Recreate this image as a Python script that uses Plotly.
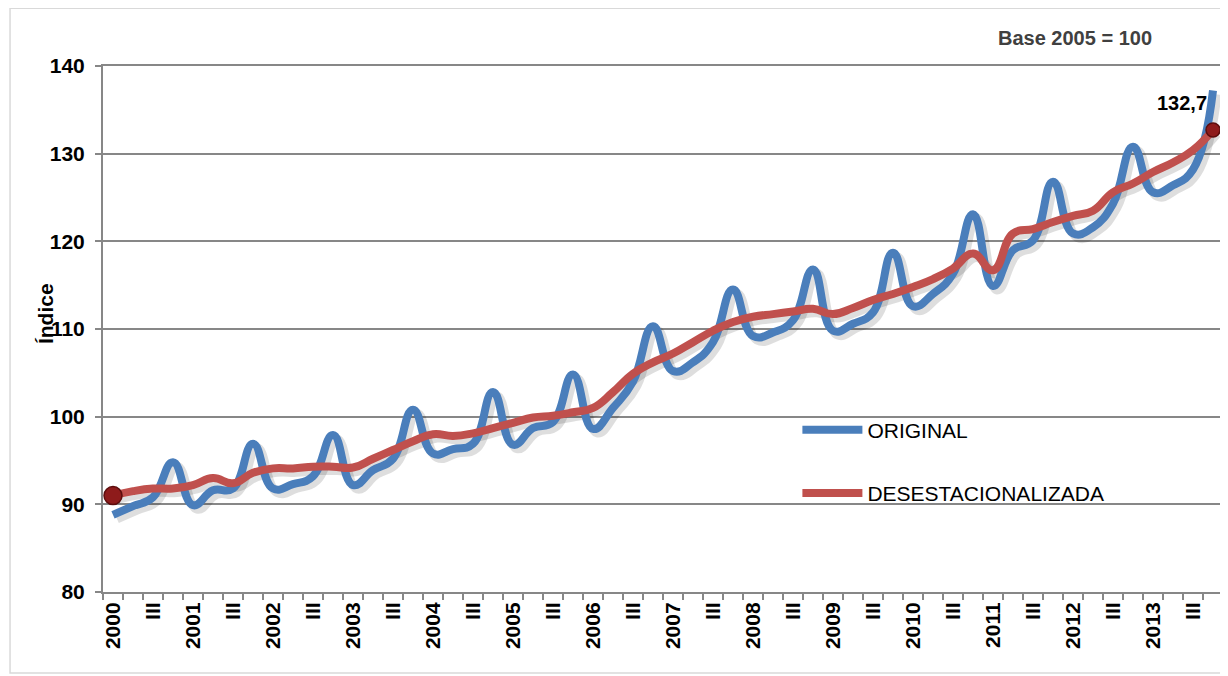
import plotly.graph_objects as go

years = list(range(2000, 2014))
quarters = ["I", "II", "III", "IV"]

original = [
    88.8, 89.8, 90.8, 94.8,
    89.9, 91.6, 91.8, 96.9,
    91.8, 92.3, 93.2, 97.9,
    92.2, 93.9, 95.2, 100.8,
    95.8, 96.3, 96.9, 102.8,
    96.8, 98.7, 99.4, 104.8,
    98.6, 101.0, 104.0, 110.3,
    105.2, 106.2, 108.5, 114.5,
    109.2, 109.6, 111.0, 116.8,
    109.8, 110.6, 111.9, 118.7,
    112.6, 114.0, 116.3, 123.1,
    114.9, 119.0, 120.1, 126.8,
    120.9, 121.6, 124.3, 130.8,
    125.6, 126.4, 128.2, 137.2,
]

desestacionalizada = [
    91.0, 91.5, 91.8, 91.8,
    92.2, 93.0, 92.4, 93.6,
    94.1, 94.1, 94.3, 94.3,
    94.2, 95.2, 96.2, 97.2,
    98.0, 97.8, 98.1, 98.7,
    99.3, 99.9, 100.1, 100.5,
    101.0, 102.8, 104.9, 106.2,
    107.2, 108.5, 109.8, 110.8,
    111.4, 111.7, 112.0, 112.3,
    111.7, 112.4, 113.3, 114.0,
    114.8, 115.7, 116.9, 118.6,
    116.7, 120.9, 121.4, 122.2,
    122.9, 123.5, 125.6, 126.6,
    127.9, 129.0, 130.4, 132.7,
]

# category labels: year on quarter I, "III" on quarter III
labels = []
for y in years:
    for q in quarters:
        labels.append(str(y) if q == "I" else q)

n = len(original)
x = list(range(n))
tick_idx = [i for i in x if quarters[i % 4] in ("I", "III")]
tick_text = [labels[i] for i in tick_idx]

FONT = "Liberation Sans, Arial, sans-serif"
BLUE = "#4A7EBB"
RED = "#C0504D"
GRID = "#878787"
SHADOW = "rgba(0,0,0,0.13)"
SMOOTH = 1.3

fig = go.Figure()

# soft drop shadows (same data, offset slightly)
for series in (original, desestacionalizada):
    fig.add_trace(go.Scatter(
        x=[v + 0.2 for v in x], y=[v - 0.45 for v in series], mode="lines",
        showlegend=False, hoverinfo="skip",
        line=dict(color=SHADOW, width=9, shape="spline", smoothing=SMOOTH),
    ))

fig.add_trace(go.Scatter(
    x=x, y=original, mode="lines", name="ORIGINAL",
    line=dict(color=BLUE, width=8, shape="spline", smoothing=SMOOTH),
    legendgroup="a",
))
fig.add_trace(go.Scatter(
    x=x, y=desestacionalizada, mode="lines", name="DESESTACIONALIZADA",
    line=dict(color=RED, width=8, shape="spline", smoothing=SMOOTH),
    legendgroup="b",
))
# end markers
fig.add_trace(go.Scatter(
    x=[x[0], x[-1]], y=[desestacionalizada[0], desestacionalizada[-1]],
    mode="markers", showlegend=False, hoverinfo="skip",
    marker=dict(size=[18, 14], color="#8E1B1B", opacity=1,
                line=dict(width=1.5, color="#5C0D0D")),
))

fig.add_annotation(
    x=x[-1], y=desestacionalizada[-1], xref="x", yref="y",
    text="132,7", showarrow=False, xanchor="right", yanchor="bottom",
    xshift=-4, yshift=14,
    font=dict(family=FONT, size=20, color="#000000", weight="bold"),
)
fig.add_annotation(
    x=0.868, y=1.054, xref="paper", yref="paper",
    text="Base 2005 = 100", showarrow=False, xanchor="center", yanchor="middle",
    font=dict(family=FONT, size=20, color="#404040", weight="bold"),
)
# y-axis title
fig.add_annotation(
    x=-0.0517, y=0.5285, xref="paper", yref="paper",
    text="Índice", showarrow=False, textangle=-90,
    xanchor="center", yanchor="middle",
    font=dict(family=FONT, size=21, color="#000000", weight="bold"),
)

# outer chart frame
fig.add_shape(type="rect", xref="paper", yref="paper",
              x0=-0.083, x1=1.02, y0=-0.154, y1=1.110,
              line=dict(color="#D9D9D9", width=1.5), layer="below")

fig.update_layout(
    width=1220, height=668,
    margin=dict(l=95, r=3, t=58, b=84),
    paper_bgcolor="white", plot_bgcolor="white",
    font=dict(family=FONT, color="#000000"),
    legend=dict(
        x=0.620, y=0.347, xanchor="left", yanchor="top",
        bgcolor="rgba(0,0,0,0)", itemwidth=60, tracegroupgap=33,
        font=dict(family=FONT, size=21, color="#000000"),
    ),
    showlegend=True,
)

fig.update_xaxes(
    range=[-0.5, n - 0.5],
    tickmode="array", tickvals=tick_idx, ticktext=tick_text,
    tickangle=-90, ticks="",
    tickfont=dict(family=FONT, size=21, color="#000000", weight="bold"),
    showgrid=False, zeroline=False,
    showline=True, linecolor=GRID, linewidth=2, mirror=True,
    minor=dict(ticks="outside", ticklen=6, tickwidth=1.5, tickcolor=GRID,
               tickmode="linear", tick0=-0.5, dtick=1),
)
fig.update_yaxes(
    range=[80, 140], dtick=10, tick0=80,
    ticks="outside", ticklen=6, tickwidth=1.5, tickcolor=GRID,
    ticklabelstandoff=6,
    tickfont=dict(family=FONT, size=21, color="#000000", weight="bold"),
    showgrid=True, gridcolor=GRID, gridwidth=2,
    zeroline=False,
    showline=True, linecolor=GRID, linewidth=2, mirror=True,
)

fig.write_html("out.html")
